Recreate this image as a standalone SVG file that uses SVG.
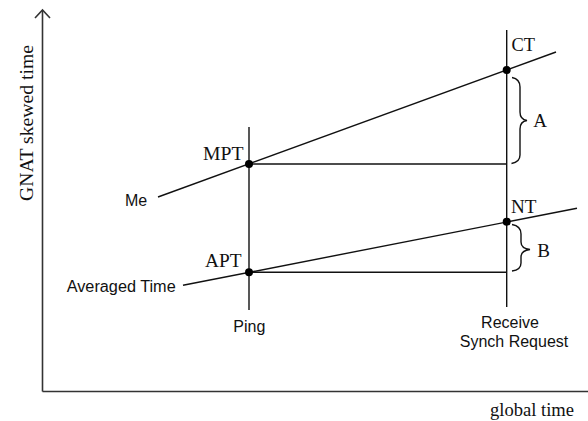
<svg xmlns="http://www.w3.org/2000/svg" width="588" height="421" viewBox="0 0 588 421">
<style>
.ln{stroke:#111;stroke-width:1.4;fill:none}
.ax{stroke:#333;stroke-width:1.6;fill:none}
.serif{font-family:"Liberation Serif","DejaVu Serif",serif;font-size:19px;fill:#111}
.sans{font-family:"Liberation Sans","DejaVu Sans",sans-serif;font-size:16px;fill:#111}
.dot{fill:#000}
</style>
<rect width="588" height="421" fill="#fff"/>
<g id="axes">
<line class="ax" x1="42.5" y1="10" x2="42.5" y2="391.5"/>
<polyline class="ax" points="35,18 42.5,10 50,18"/>
<line class="ax" x1="42.5" y1="391.5" x2="588" y2="391.5"/>
<text class="serif" transform="translate(33,201) rotate(-90)" textLength="156" lengthAdjust="spacingAndGlyphs">GNAT skewed time</text>
<text class="serif" x="490" y="416" textLength="84" lengthAdjust="spacingAndGlyphs">global time</text>
</g>
<g id="connectors">
<line class="ln" x1="249" y1="127" x2="249" y2="310"/>
<line class="ln" x1="506.7" y1="30" x2="506.7" y2="307"/>
<line class="ln" x1="158" y1="197" x2="556" y2="52"/>
<line class="ln" x1="183" y1="285.3" x2="577" y2="208.3"/>
<line class="ln" x1="249" y1="164" x2="506.7" y2="164"/>
<line class="ln" x1="249" y1="272.3" x2="506.7" y2="272.3"/>
<path class="ln" d="M512,77.5 Q520,79 520,87 L520,112 Q520,119.5 527,120.5 Q520,121.5 520,129 L520,155 Q520,162 511.5,163.5"/>
<path class="ln" d="M512,224.5 Q521,226 521,234 L521,242 Q521,248.5 530,249.5 Q521,250.5 521,257 L521,263 Q521,270 512,271"/>
</g>
<g id="CT">
<circle class="dot" cx="506.7" cy="70" r="4"/>
<text class="serif" x="511.5" y="51" textLength="23.5" lengthAdjust="spacingAndGlyphs">CT</text>
</g>
<g id="MPT">
<circle class="dot" cx="249" cy="164" r="4"/>
<text class="serif" x="203" y="159.5" textLength="40.5" lengthAdjust="spacingAndGlyphs">MPT</text>
</g>
<g id="NT">
<circle class="dot" cx="506.7" cy="221.7" r="4"/>
<text class="serif" x="511" y="213.3" textLength="25.5" lengthAdjust="spacingAndGlyphs">NT</text>
</g>
<g id="APT">
<circle class="dot" cx="249" cy="272.3" r="4"/>
<text class="serif" x="205" y="266.7" textLength="36.5" lengthAdjust="spacingAndGlyphs">APT</text>
</g>
<g id="A"><text class="serif" x="533.3" y="126.7">A</text></g>
<g id="B"><text class="serif" x="537.3" y="256.7">B</text></g>
<g id="Me"><text class="sans" x="125" y="205.5">Me</text></g>
<g id="AveragedTime"><text class="sans" x="66.7" y="292.3" textLength="109" lengthAdjust="spacingAndGlyphs">Averaged Time</text></g>
<g id="Ping"><text class="sans" x="233.3" y="331.7">Ping</text></g>
<g id="Receive">
<text class="sans" x="510" y="328.3" text-anchor="middle">Receive</text>
<text class="sans" x="514" y="346.7" text-anchor="middle">Synch Request</text>
</g>
</svg>
